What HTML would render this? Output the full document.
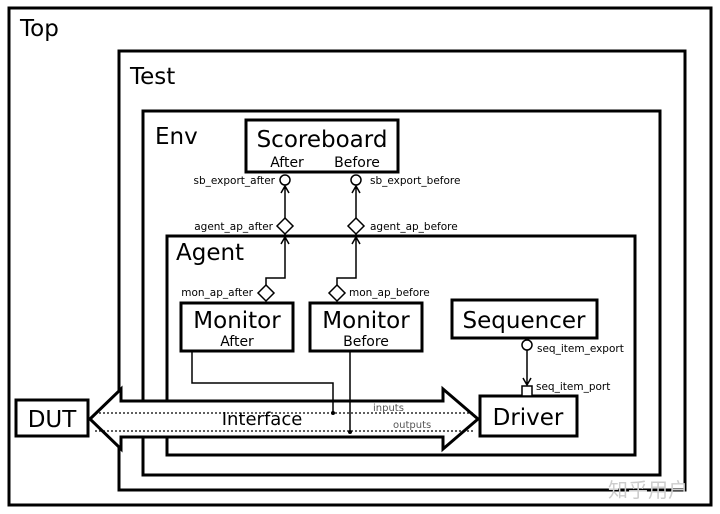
<!DOCTYPE html>
<html><head><style>body{margin:0;background:#fff}svg{display:block}text{font-family:"DejaVu Sans","Liberation Sans",sans-serif;fill:#000}</style></head><body>
<svg width="720" height="514" viewBox="0 0 720 514" xmlns="http://www.w3.org/2000/svg">
<g fill="none" stroke="#000" stroke-width="3">
<rect x="9" y="8" width="702" height="497"/>
<rect x="119" y="51" width="566" height="439"/>
<rect x="143" y="111" width="517" height="364"/>
<rect x="167" y="236" width="468" height="219"/>
<rect x="246" y="120" width="152" height="52" fill="#fff"/>
<rect x="181" y="303" width="112" height="48"/>
<rect x="310" y="303" width="112" height="48"/>
<rect x="452" y="300" width="145" height="38"/>
<rect x="480" y="396" width="97" height="40" fill="#fff"/>
<rect x="16" y="400" width="72" height="36" fill="#fff"/>
</g>
<text x="20" y="36" font-size="23">Top</text>
<text x="130" y="84" font-size="23">Test</text>
<text x="155" y="144" font-size="23">Env</text>
<text x="176" y="260" font-size="23">Agent</text>
<text x="322" y="147" font-size="23" text-anchor="middle">Scoreboard</text>
<text x="287" y="167" font-size="14" text-anchor="middle">After</text>
<text x="357" y="167" font-size="14" text-anchor="middle">Before</text>
<text x="237" y="328" font-size="23" text-anchor="middle">Monitor</text>
<text x="237" y="346" font-size="14" text-anchor="middle">After</text>
<text x="366" y="328" font-size="23" text-anchor="middle">Monitor</text>
<text x="366" y="346" font-size="14" text-anchor="middle">Before</text>
<text x="524" y="328" font-size="23" text-anchor="middle">Sequencer</text>
<text x="528" y="425" font-size="23" text-anchor="middle">Driver</text>
<text x="52" y="427" font-size="23" text-anchor="middle">DUT</text>
<g fill="none" stroke="#000" stroke-width="1.5">
<circle cx="285" cy="180" r="5"/><circle cx="356" cy="180" r="5"/>
<path d="M285,236 V186 M281,193 L285,186 L289,193"/><path d="M356,236 V186 M352,193 L356,186 L360,193"/>
<path d="M266,285 V278 H285 V237 M281,244 L285,237 L289,244"/><path d="M337,285 V278 H356 V237 M352,244 L356,237 L360,244"/>
<circle cx="527" cy="345" r="5"/>
<path d="M527,350 V385 M523,378 L527,385 L531,378"/>
<rect x="522" y="386" width="10" height="10" fill="#fff"/>
</g>
<g fill="#fff" stroke="#000" stroke-width="1.5">
<path d="M285,218 L293,226 L285,234 L277,226Z"/><path d="M356,218 L364,226 L356,234 L348,226Z"/>
<path d="M266,285 L274,293 L266,301 L258,293Z"/><path d="M337,285 L345,293 L337,301 L329,293Z"/>
</g>
<path d="M90,419 L121,389 V401 H443 V389 L478,419 L443,449 V437 H121 V449 Z" fill="#fff" stroke="#000" stroke-width="3" stroke-linejoin="miter"/>
<g stroke="#000" stroke-width="1.3" stroke-dasharray="2,2"><line x1="95" y1="413" x2="474" y2="413"/><line x1="95" y1="431" x2="474" y2="431"/></g>
<text x="262" y="425" font-size="18" text-anchor="middle">Interface</text>
<g fill="none" stroke="#000" stroke-width="1.5"><path d="M192,351 V383 H333 V413"/><path d="M350,351 V432"/></g>
<circle cx="333" cy="413" r="2"/><circle cx="350" cy="432" r="2"/>
<text x="373" y="411" font-size="10" style="fill:#555">inputs</text>
<text x="393" y="428" font-size="10" style="fill:#555">outputs</text>
<g font-size="10.5">
<text x="275" y="184" text-anchor="end">sb_export_after</text>
<text x="370" y="184">sb_export_before</text>
<text x="273" y="230" text-anchor="end">agent_ap_after</text>
<text x="370" y="230">agent_ap_before</text>
<text x="253" y="296" text-anchor="end">mon_ap_after</text>
<text x="349" y="296">mon_ap_before</text>
<text x="537" y="352">seq_item_export</text>
<text x="536" y="390">seq_item_port</text>
</g>
<text x="608" y="497" font-size="20" style="fill:#ccc;font-family:'Noto Sans CJK SC',sans-serif">知乎用户</text>
</svg>
</body></html>
